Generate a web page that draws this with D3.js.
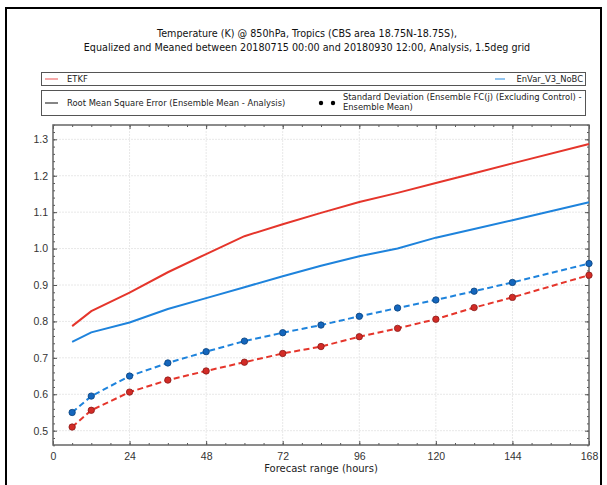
<!DOCTYPE html>
<html>
<head>
<meta charset="utf-8">
<script src="https://cdn.jsdelivr.net/npm/d3@7"></script>
<style>
  body { margin: 0; background: #fff; }
  svg { display: block; font-family: "DejaVu Sans", sans-serif; }
</style>
</head>
<body>
<svg id="chart" width="607" height="485"></svg>
<script>
// forecast ranges (hours)
const leadTimes = [6, 12, 24, 36, 48, 60, 72, 84, 96, 108, 120, 132, 144, 168]

// RMSE of ensemble mean vs analysis
const etkfRmse = [0.787, 0.828, 0.879, 0.935, 0.985, 1.034, 1.067, 1.098, 1.128, 1.153, 1.180, 1.207, 1.234, 1.287]
const envarRmse = [0.744, 0.770, 0.797, 0.834, 0.864, 0.894, 0.924, 0.953, 0.979, 1.000, 1.030, 1.054, 1.078, 1.127]

// ensemble spread
const etkfSpread = [0.510, 0.556, 0.606, 0.639, 0.664, 0.688, 0.712, 0.731, 0.758, 0.781, 0.806, 0.838, 0.866, 0.927]
const envarSpread = [0.550, 0.595, 0.650, 0.686, 0.717, 0.746, 0.769, 0.790, 0.814, 0.837, 0.859, 0.883, 0.907, 0.959]

const xTicks = [0, 24, 48, 72, 96, 120, 144, 168]
const yTicks = [0.5, 0.6, 0.7, 0.8, 0.9, 1.0, 1.1, 1.2, 1.3]

const titleLines = [
  'Temperature (K) @ 850hPa, Tropics (CBS area 18.75N-18.75S),',
  'Equalized and Meaned between 20180715 00:00 and 20180930 12:00, Analysis, 1.5deg grid'
]

const RED = '#e5352b'
const BLUE = '#1e83dc'
const RED_DOT = '#d22b26'
const BLUE_DOT = '#1466bd'

const svg = d3.select('#chart')

// outer frame (no bottom edge)
svg.append('path')
  .attr('d', 'M6,485V8H601V485')
  .attr('fill', 'none')
  .attr('stroke', '#000')
  .attr('stroke-width', 2)

// title
svg.append('g').selectAll('text')
  .data(titleLines)
  .enter()
  .append('text')
  .attr('x', 307)
  .attr('y', (d, i) => 36.5 + i * 14)
  .attr('text-anchor', 'middle')
  .style('font-size', '9.6px')
  .style('fill', '#111')
  .text(d => d)

// legends
const legend = svg.append('g').style('font-size', '8.4px').style('fill', '#222')
legend.append('rect').attr('x', 41.5).attr('y', 72.5).attr('width', 544).attr('height', 13)
  .attr('fill', '#fff').attr('stroke', '#555')
legend.append('rect').attr('x', 41.5).attr('y', 90.5).attr('width', 544).attr('height', 25)
  .attr('fill', '#fff').attr('stroke', '#555')

legend.append('line').attr('x1', 45).attr('x2', 58).attr('y1', 79).attr('y2', 79)
  .attr('stroke', '#f07070').attr('stroke-width', 1.2)
legend.append('text').attr('x', 67).attr('y', 82).text('ETKF')
legend.append('line').attr('x1', 495).attr('x2', 505).attr('y1', 79).attr('y2', 79)
  .attr('stroke', '#4aa0e8').attr('stroke-width', 1.2)
legend.append('text').attr('x', 583).attr('y', 82).attr('text-anchor', 'end').text('EnVar_V3_NoBC')

legend.append('line').attr('x1', 45).attr('x2', 58).attr('y1', 103).attr('y2', 103)
  .attr('stroke', '#333').attr('stroke-width', 1.2)
legend.append('text').attr('x', 67).attr('y', 106).text('Root Mean Square Error (Ensemble Mean - Analysis)')
legend.append('circle').attr('cx', 321).attr('cy', 103).attr('r', 2.2).attr('fill', '#000')
legend.append('circle').attr('cx', 333).attr('cy', 103).attr('r', 2.2).attr('fill', '#000')
legend.append('text').attr('x', 343).attr('y', 100)
  .text('Standard Deviation (Ensemble FC(j) (Excluding Control) -')
legend.append('text').attr('x', 343).attr('y', 110).text('Ensemble Mean)')

// plot area
const plotLeft = 53
const plotTop = 125
const width = 536
const height = 320

const xScale = d3.scaleLinear().domain([0, 168]).range([0, width])
const yScale = d3.scaleLinear().domain([0.4607, 1.3393]).range([height, 0])

const g = svg.append('g').attr('transform', `translate(${plotLeft},${plotTop})`)

// grid
g.append('g').selectAll('line')
  .data(xTicks.slice(1, -1))
  .enter()
  .append('line')
  .attr('x1', d => xScale(d)).attr('x2', d => xScale(d))
  .attr('y1', 0).attr('y2', height)
  .attr('stroke', '#e8e8e8').attr('stroke-dasharray', '2,1')
g.append('g').selectAll('line')
  .data(yTicks)
  .enter()
  .append('line')
  .attr('y1', d => yScale(d)).attr('y2', d => yScale(d))
  .attr('x1', 0).attr('x2', width)
  .attr('stroke', '#e8e8e8').attr('stroke-dasharray', '2,1')

// axes with inward ticks
const xMinor = d3.range(0, 169, 6)
const yMinor = d3.range(0.46, 1.34, 0.02)

function styleAxis (sel) {
  sel.select('.domain').remove()
  sel.selectAll('line').attr('stroke', '#555')
  sel.selectAll('text').style('font-size', '10.5px').style('fill', '#333')
}

g.append('g').attr('transform', `translate(0,${height})`)
  .call(d3.axisBottom(xScale).tickValues(xMinor).tickSize(-2).tickFormat(''))
  .call(styleAxis)
g.append('g').attr('transform', `translate(0,${height})`)
  .call(d3.axisBottom(xScale).tickValues(xTicks).tickSize(-4).tickPadding(8).tickFormat(d3.format('d')))
  .call(styleAxis)
g.append('g')
  .call(d3.axisTop(xScale).tickValues(xMinor).tickSize(-2).tickFormat(''))
  .call(styleAxis)
g.append('g')
  .call(d3.axisTop(xScale).tickValues(xTicks).tickSize(-4).tickFormat(''))
  .call(styleAxis)

g.append('g')
  .call(d3.axisLeft(yScale).tickValues(yMinor).tickSize(-2).tickFormat(''))
  .call(styleAxis)
g.append('g')
  .call(d3.axisLeft(yScale).tickValues(yTicks).tickSize(-4).tickPadding(5).tickFormat(d3.format('.1f')))
  .call(styleAxis)
g.append('g').attr('transform', `translate(${width},0)`)
  .call(d3.axisRight(yScale).tickValues(yMinor).tickSize(-2).tickFormat(''))
  .call(styleAxis)
g.append('g').attr('transform', `translate(${width},0)`)
  .call(d3.axisRight(yScale).tickValues(yTicks).tickSize(-4).tickFormat(''))
  .call(styleAxis)

g.append('rect').attr('width', width).attr('height', height)
  .attr('fill', 'none').attr('stroke', '#666').attr('stroke-width', 1.5)

svg.append('text')
  .attr('x', 321)
  .attr('y', 472)
  .attr('text-anchor', 'middle')
  .style('font-size', '10px')
  .style('fill', '#222')
  .text('Forecast range (hours)')

// series
const line = d3.line()
  .x((d, i) => xScale(leadTimes[i]))
  .y(d => yScale(d))

const series = [
  { values: etkfRmse, color: RED, dash: null },
  { values: envarRmse, color: BLUE, dash: null },
  { values: etkfSpread, color: RED, dash: '6,3.5', dot: RED_DOT },
  { values: envarSpread, color: BLUE, dash: '6,3.5', dot: BLUE_DOT }
]

series.forEach(s => {
  g.append('path')
    .datum(s.values)
    .attr('d', line)
    .attr('fill', 'none')
    .attr('stroke', s.color)
    .attr('stroke-width', 2)
    .attr('stroke-dasharray', s.dash)
  if (s.dot) {
    g.append('g').selectAll('circle')
      .data(s.values)
      .enter()
      .append('circle')
      .attr('cx', (d, i) => xScale(leadTimes[i]))
      .attr('cy', d => yScale(d))
      .attr('r', 3.2)
      .attr('fill', s.dot)
      .attr('stroke', d3.color(s.dot).darker(1.2))
      .attr('stroke-width', 0.8)
  }
})
</script>
</body>
</html>
